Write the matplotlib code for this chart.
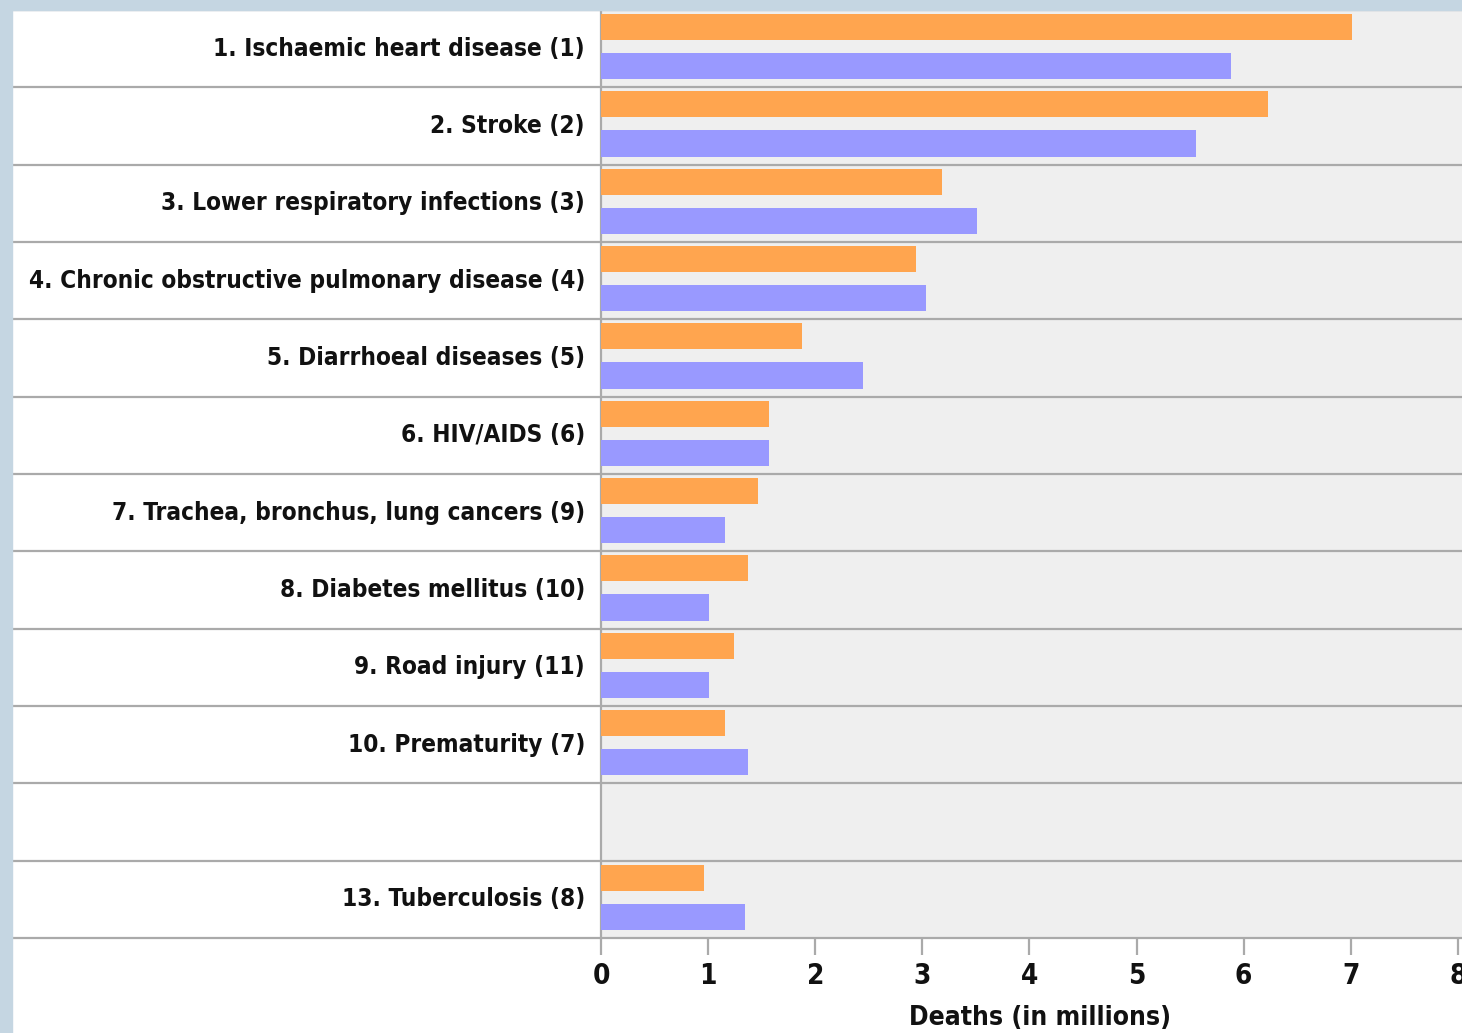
import numpy as np
import matplotlib
matplotlib.use("Agg")
import matplotlib.pyplot as plt
from matplotlib import font_manager
from matplotlib.patches import Rectangle

# ---------- data ----------
causes = ["1. Ischaemic heart disease (1)", "2. Stroke (2)", "3. Lower respiratory infections (3)",
          "4. Chronic obstructive pulmonary disease (4)", "5. Diarrhoeal diseases (5)", "6. HIV/AIDS (6)",
          "7. Trachea, bronchus, lung cancers (9)", "8. Diabetes mellitus (10)", "9. Road injury (11)",
          "10. Prematurity (7)", "", "13. Tuberculosis (8)"]
orange_vals = [7.01, 6.23, 3.18, 2.94, 1.88, 1.57, 1.47, 1.37, 1.24, 1.16, 0, 0.96]
purple_vals = [5.88, 5.56, 3.51, 3.03, 2.45, 1.57, 1.16, 1.01, 1.01, 1.37, 0, 1.34]
xticks = [0, 1, 2, 3, 4, 5, 6, 7, 8]

ORANGE = "#ffa54f"; PURPLE = "#9999ff"; BG = "#efefef"; GRID = "#aaaaaa"; STRIP = "#c5d6e2"

names = {f.name for f in font_manager.fontManager.ttflist}
if "Liberation Sans Narrow" in names:
    FONT = dict(family="Liberation Sans Narrow")
else:
    FONT = dict(family="DejaVu Sans", stretch="condensed")

W, H = 1462, 1033
fig = plt.figure(figsize=(W/100, H/100), dpi=100, facecolor="white")
# light blue frame strips (left + top)
fig.patches.append(Rectangle((0, 0), 12/W, 1, transform=fig.transFigure, color=STRIP, zorder=0))
fig.patches.append(Rectangle((0, 1-10/H), 1, 10/H, transform=fig.transFigure, color=STRIP, zorder=0))

x0, x1, ytop, ybot = 601, 1462, 10, 938
ax = fig.add_axes([x0/W, 1-ybot/H, (x1-x0)/W, (ybot-ytop)/H])
ax.set_facecolor(BG)
px_per_unit = 107.1
ax.set_xlim(0, (x1-x0)/px_per_unit)
n = len(causes)
ax.set_ylim(n, 0)

idx = np.arange(n)
ax.barh(idx + 0.22, orange_vals, height=0.34, color=ORANGE, zorder=3)
ax.barh(idx + 0.725, purple_vals, height=0.34, color=PURPLE, zorder=3)

# row separators extending across the label panel
left_frac = (12 - x0) / (x1 - x0)
ax.hlines(np.arange(n+1), left_frac, 1, transform=ax.get_yaxis_transform(),
          colors=GRID, linewidth=1.6, clip_on=False, zorder=4)

for i, c in enumerate(causes):
    ax.text((585 - x0)/(x1 - x0), i + 0.5, c, transform=ax.get_yaxis_transform(),
            ha="right", va="center", fontsize=17.5, fontweight="bold", color="#111111", **FONT)

for s in ["top", "right", "bottom"]:
    ax.spines[s].set_visible(False)
ax.spines["left"].set_color(GRID)
ax.spines["left"].set_linewidth(1.6)
ax.set_yticks([])
ax.set_xticks(xticks)
ax.set_xticklabels([str(t) for t in xticks], fontsize=20, fontweight="bold", color="#111111", **FONT)
ax.tick_params(axis="x", length=12, width=1.6, color=GRID, pad=5)
fig.text(1040/W, 1-1018/H, "Deaths (in millions)", ha="center", va="center",
         fontsize=19, fontweight="bold", color="#111111", **FONT)

fig.savefig("out.png", dpi=100, facecolor="white")
